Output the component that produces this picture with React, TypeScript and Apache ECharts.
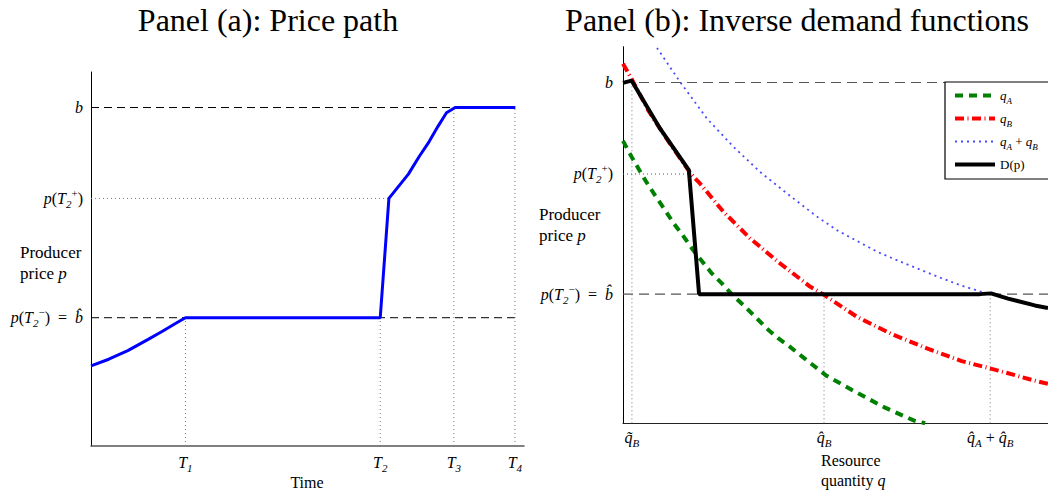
import React, { useEffect, useRef } from "react";
import * as echarts from "echarts";

const SERIF = "'Liberation Serif', 'DejaVu Serif', serif";

// Shared price levels
const B = 9.05;
const B_HAT = 3.43;
const P_T2_PLUS = 6.62;

// ---------- Panel (a): price path ----------
const TIME_TICKS = [2.18, 6.68, 8.38, 9.79];
const TIME_TICK_LABELS = ["{i|T}{sub|1}", "{i|T}{sub|2}", "{i|T}{sub|3}", "{i|T}{sub|4}"];
const PRICE_TIME = [0, 0.41, 0.85, 1.32, 1.64, 1.96, 2.18, 6.68, 6.88, 7.33, 7.58, 7.81, 8.01, 8.21, 8.41, 9.8];
const PRICE_VALUES = [2.14, 2.32, 2.55, 2.85, 3.06, 3.28, 3.43, 3.43, 6.62, 7.27, 7.74, 8.14, 8.54, 8.91, 9.05, 9.05];
const PRICE_TICK_VALUES = [B_HAT, P_T2_PLUS, B];
const PRICE_TICK_LABELS = [
  "{i|p}({i|T}{sub|2}{sup|−})  =  {i|b̂}",
  "{i|p}({i|T}{sub|2}{sup|+})",
  "{i|b}",
];
const REF_END_A = 9.88;

// ---------- Panel (b): inverse demand ----------
const Q_TICKS = [0.21, 4.73, 8.64];
const Q_TICK_LABELS = ["{i|q̃}{sub|B}", "{i|q̂}{sub|B}", "{i|q̂}{sub|A} + {i|q̂}{sub|B}"];

const QA_X = [0, 0.2, 0.38, 0.56, 0.75, 0.99, 1.18, 1.42, 1.65, 2.09, 2.32, 2.6, 2.83, 3.11, 3.38, 3.65, 3.93, 4.24, 4.79, 5.51, 6.14, 6.85, 7.11];
const QA_Y = [7.5, 7.08, 6.73, 6.39, 6.06, 5.66, 5.33, 4.97, 4.6, 3.98, 3.72, 3.38, 3.14, 2.83, 2.52, 2.26, 2.03, 1.75, 1.26, 0.81, 0.43, 0.07, 0];

const QB_X = [0, 0.2, 0.6, 1.0, 1.6, 1.81, 2.36, 2.99, 3.69, 4.4, 4.73, 5.5, 6.32, 7.15, 7.97, 8.83, 9.73, 10];
const QB_Y = [9.55, 9.15, 8.3, 7.6, 6.62, 6.37, 5.62, 4.91, 4.25, 3.63, 3.41, 2.83, 2.37, 1.99, 1.65, 1.4, 1.12, 1.05];

const QAB_X = [0.72, 1.34, 1.97, 2.6, 3.22, 3.85, 4.56, 5.03, 5.97, 6.53, 7.32, 7.95, 8.47, 8.66, 9.06, 9.69, 10];
const QAB_Y = [10.1, 9.07, 8.1, 7.34, 6.68, 6.11, 5.49, 5.13, 4.56, 4.29, 3.93, 3.66, 3.48, 3.44, 3.31, 3.13, 3.06];

const D_X = [0, 0.2, 0.87, 1.55, 1.79, 8.4, 8.66, 9.06, 9.69, 10];
const D_Y = [9.04, 9.1, 7.83, 6.72, 3.43, 3.43, 3.45, 3.31, 3.13, 3.06];

const SERIES_NAMES = ["qA", "qB", "qA+qB", "D(p)"];
const LEGEND_LABELS = ["{i|q}{sub|A}", "{i|q}{sub|B}", "{i|q}{sub|A} + {i|q}{sub|B}", "D(p)"];

const zip = (xs: number[], ys: number[]) => xs.map((x, i) => [x, ys[i]]);
const nearest = (arr: number[], v: number) => {
  let best = 0;
  arr.forEach((a, i) => {
    if (Math.abs(a - v) < Math.abs(arr[best] - v)) best = i;
  });
  return best;
};

const rich = (size: number) => ({
  i: { fontFamily: SERIF, fontStyle: "italic", fontSize: size, lineHeight: size + 6, color: "#000" },
  sub: { fontFamily: SERIF, fontStyle: "italic", fontSize: Math.round(size * 0.68), lineHeight: Math.round(size * 0.68), verticalAlign: "bottom", color: "#000" },
  sup: { fontFamily: SERIF, fontSize: Math.round(size * 0.68), lineHeight: Math.round(size * 0.68), verticalAlign: "top", color: "#000" },
});

const refLine = (data: number[][], xi: number, color: string, type: any, width = 1) => ({
  type: "line",
  xAxisIndex: xi,
  yAxisIndex: xi,
  data,
  symbol: "none",
  silent: true,
  z: 1,
  lineStyle: { color, type, width },
});

const QA_STYLE = { color: "#008000", width: 4, type: [8, 6] };
const QB_STYLE = { color: "#ff0000", width: 4, type: [9, 3.5, 1, 3.5] };
const QAB_STYLE = { color: "#4a4aff", width: 1.8, type: [2, 4] };
const D_STYLE = { color: "#000", width: 4, type: "solid" };
const STYLES: any[] = [QA_STYLE, QB_STYLE, QAB_STYLE, D_STYLE];

export default function App() {
  const ref = useRef<HTMLDivElement>(null);
  useEffect(() => {
    if (!ref.current) return;
    const chart = echarts.init(ref.current, undefined, { renderer: "svg" });
    const dashA: any = [8, 5];
    const dashB: any = [10, 6];
    const dot: any = [1, 3];
    const labelStyle = { fontFamily: SERIF, fontSize: 16, lineHeight: 22, color: "#000" };

    const option: any = {
      animation: false,
      backgroundColor: "#fff",
      grid: [
        { left: 91, top: 72, width: 433, height: 374 },
        { left: 623, top: 46.7, width: 425, height: 376.6 },
      ],
      xAxis: [
        {
          type: "value", gridIndex: 0, min: 0, max: 10,
          splitLine: { show: false }, axisTick: { show: false },
          axisLine: { lineStyle: { color: "#555", width: 1.5 } },
          axisLabel: {
            ...labelStyle, margin: 5, customValues: TIME_TICKS,
            formatter: (v: number) => TIME_TICK_LABELS[nearest(TIME_TICKS, v)], rich: rich(16),
          },
        },
        {
          type: "value", gridIndex: 1, min: 0, max: 10,
          splitLine: { show: false }, axisTick: { show: false },
          axisLine: { lineStyle: { color: "#222", width: 1.2 } },
          axisLabel: {
            ...labelStyle, margin: 3, customValues: Q_TICKS,
            formatter: (v: number) => Q_TICK_LABELS[nearest(Q_TICKS, v)], rich: rich(16),
          },
        },
      ],
      yAxis: [
        {
          type: "value", gridIndex: 0, min: 0, max: 10,
          splitLine: { show: false }, axisTick: { show: false },
          axisLine: { show: true, lineStyle: { color: "#000", width: 1 } },
          axisLabel: {
            ...labelStyle, margin: 8, customValues: PRICE_TICK_VALUES,
            formatter: (v: number) => PRICE_TICK_LABELS[nearest(PRICE_TICK_VALUES, v)], rich: rich(16),
          },
        },
        {
          type: "value", gridIndex: 1, min: 0, max: 10,
          splitLine: { show: false }, axisTick: { show: false },
          axisLine: { show: true, lineStyle: { color: "#000", width: 1 } },
          axisLabel: {
            ...labelStyle, margin: 10, customValues: PRICE_TICK_VALUES,
            formatter: (v: number) => PRICE_TICK_LABELS[nearest(PRICE_TICK_VALUES, v)], rich: rich(16),
          },
        },
      ],
      legend: {
        data: SERIES_NAMES.map((n, i) => ({
          name: n,
          itemStyle: { opacity: 0 },
          lineStyle: { ...STYLES[i] },
        })),
        orient: "vertical",
        left: 945,
        top: 82,
        itemWidth: 40,
        itemHeight: 14,
        itemGap: 7,
        padding: [7, 60, 8, 8],
        borderColor: "#000",
        borderWidth: 1.2,
        backgroundColor: "#fff",
        formatter: (name: string) => LEGEND_LABELS[SERIES_NAMES.indexOf(name)],
        textStyle: { fontFamily: SERIF, fontSize: 13, color: "#000", rich: rich(13) },
      },
      graphic: [
        { type: "text", x: 268, y: 20, style: { text: "Panel (a): Price path", fontFamily: SERIF, fontSize: 32, fill: "#000", textAlign: "center", textVerticalAlign: "middle" } },
        { type: "text", x: 797, y: 20, style: { text: "Panel (b): Inverse demand functions", fontFamily: SERIF, fontSize: 32, fill: "#000", textAlign: "center", textVerticalAlign: "middle" } },
        { type: "text", x: 20, y: 264, style: { text: "Producer\nprice {i|p}", fontFamily: SERIF, fontSize: 17, lineHeight: 19, fill: "#000", textVerticalAlign: "middle", rich: rich(17) } },
        { type: "text", x: 539, y: 226, style: { text: "Producer\nprice {i|p}", fontFamily: SERIF, fontSize: 17, lineHeight: 19, fill: "#000", textVerticalAlign: "middle", rich: rich(17) } },
        { type: "text", x: 307, y: 482, style: { text: "Time", fontFamily: SERIF, fontSize: 16, fill: "#000", textAlign: "center", textVerticalAlign: "middle" } },
        { type: "text", x: 821, y: 471, style: { text: "Resource\nquantity {i|q}", fontFamily: SERIF, fontSize: 16, lineHeight: 19, fill: "#000", textVerticalAlign: "middle", rich: rich(16) } },
      ],
      series: [
        // Panel (a) reference lines
        refLine([[0, B], [REF_END_A, B]], 0, "#000", dashA),
        refLine([[0, B_HAT], [REF_END_A, B_HAT]], 0, "#000", dashA),
        refLine([[0, P_T2_PLUS], [PRICE_TIME[8], P_T2_PLUS]], 0, "#777", dot),
        refLine([[TIME_TICKS[0], 0], [TIME_TICKS[0], B_HAT]], 0, "#777", dot),
        refLine([[TIME_TICKS[1], 0], [TIME_TICKS[1], B_HAT]], 0, "#777", dot),
        refLine([[TIME_TICKS[2], 0], [TIME_TICKS[2], B]], 0, "#777", dot),
        refLine([[TIME_TICKS[3], 0], [TIME_TICKS[3], B]], 0, "#777", dot),
        {
          type: "line", name: "price", xAxisIndex: 0, yAxisIndex: 0, symbol: "none", z: 3,
          data: zip(PRICE_TIME, PRICE_VALUES),
          lineStyle: { color: "#0000ff", width: 3 },
        },
        // Panel (b) reference lines
        refLine([[0, B], [10, B]], 1, "#555", dashB, 1.2),
        refLine([[0, B_HAT], [10, B_HAT]], 1, "#555", dashB, 1.2),
        refLine([[0, P_T2_PLUS], [D_X[3], P_T2_PLUS]], 1, "#555", dot),
        refLine([[Q_TICKS[0], 0], [Q_TICKS[0], B]], 1, "#777", dot),
        refLine([[Q_TICKS[1], 0], [Q_TICKS[1], B_HAT]], 1, "#777", dot),
        refLine([[Q_TICKS[2], 0], [Q_TICKS[2], B_HAT]], 1, "#777", dot),
        {
          type: "line", name: SERIES_NAMES[0], xAxisIndex: 1, yAxisIndex: 1, symbol: "none", z: 3,
          data: zip(QA_X, QA_Y), color: QA_STYLE.color, lineStyle: QA_STYLE,
        },
        {
          type: "line", name: SERIES_NAMES[1], xAxisIndex: 1, yAxisIndex: 1, symbol: "none", z: 3,
          data: zip(QB_X, QB_Y), color: QB_STYLE.color, lineStyle: QB_STYLE,
        },
        {
          type: "line", name: SERIES_NAMES[2], xAxisIndex: 1, yAxisIndex: 1, symbol: "none", z: 3,
          data: zip(QAB_X, QAB_Y), color: QAB_STYLE.color, lineStyle: QAB_STYLE,
        },
        {
          type: "line", name: SERIES_NAMES[3], xAxisIndex: 1, yAxisIndex: 1, symbol: "none", z: 4,
          data: zip(D_X, D_Y), color: D_STYLE.color, lineStyle: D_STYLE,
        },
      ],
    };
    chart.setOption(option);
    return () => chart.dispose();
  }, []);
  return (
    <div
      ref={ref}
      style={{ position: "absolute", left: 0, top: 0, width: 1048, height: 494, background: "#fff" }}
    />
  );
}
